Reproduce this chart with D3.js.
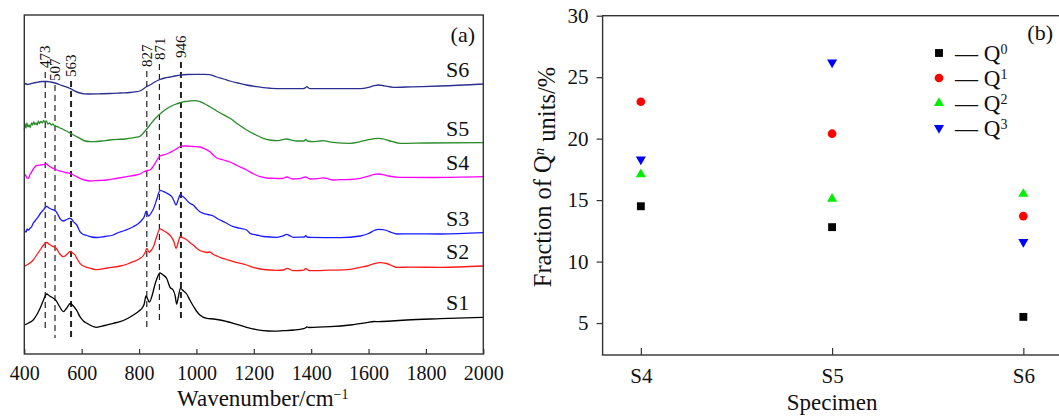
<!DOCTYPE html>
<html>
<head>
<meta charset="utf-8">
<script src="https://cdn.jsdelivr.net/npm/d3@7"></script>
<style>
  html, body { margin: 0; padding: 0; background: #fff; }
  svg { display: block; font-family: "Liberation Serif", "Times New Roman", serif; }
</style>
</head>
<body>
<svg id="chart" width="1059" height="417"></svg>
<script>
// ---------- Panel (a): FTIR spectra, [wavenumber cm^-1, offset intensity a.u.] ----------
const wavenumberTicks = [400, 600, 800, 1000, 1200, 1400, 1600, 1800, 2000];
const peakPositions = [473, 507, 563, 827, 871, 946];
const peakLabelBase = [68, 81, 77, 67, 60, 58];      // label foot (px from top)
const peakLineEnd = [332, 338, 337, 329, 323, 320];   // dashed line foot (px from top)
const peakBold = [false, false, true, false, false, true];

const spectrumNames = ["S1", "S2", "S3", "S4", "S5", "S6"];
const spectrumColors = ["#000000", "#ff1a1a", "#1a1aff", "#ff00ff", "#2a8a2a", "#2b2f8f"];

const spectrumS1 = [[400,29],[415,31],[431,34],[445,40],[455,45.7],[467,54],[478,60],[488,58],[496,56.7],[511,53.3],[524,47],[536,42.3],[548,46],[560,50.5],[571,48],[583,43.3],[594,37.3],[606,33],[618,30.7],[640,27.5],[652,26.7],[680,28.5],[710,30.7],[734,32.3],[760,35.5],[780,39],[800,43],[810,45.7],[818,50],[824,58],[830,55],[836,52],[845,58],[856,70],[873,81],[884,79],[896,75.7],[908,66.7],[919,64],[926,58],[931,50],[937,57],[944,65.7],[955,63],[966,60],[977,54],[989,48],[1000,43],[1012,39],[1036,35.7],[1060,35],[1082,34],[1105,32.5],[1129,30.7],[1175,26.7],[1233,23.3],[1270,22.8],[1303,23.3],[1340,24],[1361,24.7],[1380,26],[1385,27],[1392,26.5],[1466,27.3],[1536,29],[1594,31.3],[1620,32.5],[1634,32.3],[1680,33],[1733,34],[1850,35.3],[2000,36.7]];

const spectrumS2 = [[400,87.7],[415,90],[431,94],[443,99],[455,104],[467,109],[478,111.5],[488,109.5],[496,108],[511,105.7],[524,100],[536,97.3],[548,99.5],[560,102.7],[568,101],[577,99],[583,95.7],[594,90.7],[606,88],[618,86.7],[640,85],[652,84.3],[690,86],[734,88],[760,90],[780,92.3],[800,95],[815,98.5],[822,102],[827,105.7],[832,103],[836,101.7],[843,104],[850,107.3],[860,116],[873,125.2],[884,123.5],[896,121.5],[914,116.5],[922,112],[929,105.7],[936,111],[943,117.3],[955,116],[966,114.3],[977,111.5],[989,109],[1000,106],[1012,103.5],[1025,102.3],[1036,101.5],[1047,102],[1060,99.5],[1082,96.7],[1105,94.5],[1129,92.3],[1175,89],[1198,86.7],[1233,84.5],[1280,83.7],[1303,84],[1317,85.7],[1330,84],[1338,83.3],[1361,83.5],[1376,84.2],[1381,85.7],[1388,84.2],[1396,83.3],[1460,83.8],[1536,84.7],[1571,86.7],[1594,88],[1620,90.3],[1640,91.3],[1663,90.5],[1680,88.5],[1698,86.7],[1750,86.8],[1850,86.7],[2000,88]];

const spectrumS3 = [[400,123.5],[406,122],[410,125],[414,123.8],[420,125.7],[426,127.5],[431,130.7],[440,134],[449,137.3],[457,141],[466,144],[472,146],[478,147.7],[486,146],[496,144.7],[504,143.8],[511,142.3],[518,139],[524,135.7],[536,133],[548,134.5],[559,135.7],[566,134.5],[571,132.3],[577,130.7],[583,129],[594,122.3],[606,119.5],[618,118.5],[635,117],[652,116.5],[680,117.5],[710,119],[722,120.7],[750,123.5],[780,127.3],[800,131],[810,134],[818,137.3],[825,142.8],[830,139.5],[834,138],[842,141],[850,145],[862,155],[873,163.7],[884,162.5],[896,161],[905,159.5],[914,157.3],[922,153],[929,149],[936,154],[943,159],[950,158],[960,155.7],[977,150.7],[989,149],[1000,145.5],[1012,142.3],[1024,140.7],[1040,139.5],[1059,138],[1071,135.7],[1100,131.5],[1129,127.3],[1150,125.8],[1175,124],[1187,120.7],[1210,119],[1233,117.5],[1280,116.7],[1300,117.8],[1315,119.7],[1325,118.3],[1338,116.7],[1365,116.9],[1376,117],[1381,118.4],[1386,117],[1396,116.7],[1501,116.3],[1571,118],[1600,120.5],[1620,123.5],[1634,124.7],[1650,124.3],[1663,123.5],[1680,121.5],[1698,120],[1750,120.1],[1850,120],[2000,121.3]];

const spectrumS4 = [[400,180],[405,178.5],[410,176],[414,175.7],[420,179.5],[426,182.3],[434,186],[443,188.5],[452,188.8],[460,189.2],[470,189.5],[478,190],[484,188.5],[490,187.3],[500,185.8],[513,184],[530,182.6],[545,181.5],[559,180.7],[575,178.5],[594,175.7],[610,174],[629,173],[660,173.5],[687,174],[720,175.5],[757,177.3],[790,179],[803,180],[815,182],[830,183.5],[838,184],[848,187],[856,190.7],[865,195],[873,198],[884,199],[896,200],[908,201.5],[919,203.3],[930,205],[943,207.5],[955,208],[966,208],[990,207.5],[1012,207],[1030,205],[1047,202.3],[1060,198.5],[1071,196],[1095,194],[1117,192],[1145,188],[1175,184],[1200,180],[1222,177.3],[1245,176],[1268,175.7],[1300,175.5],[1315,177],[1335,175],[1360,175.4],[1381,177],[1388,176],[1400,175],[1420,175.3],[1441,176.2],[1460,175.2],[1476,174],[1500,174.3],[1536,174.5],[1571,175.7],[1600,177.8],[1620,179.6],[1634,180],[1650,179.4],[1670,178],[1710,176.7],[1825,176.5],[2000,177.3]];

const spectrumS5 = [[400,224],[403,230],[406,226],[409,231],[413,227],[417,229],[421,226.5],[425,231],[429,229],[433,232],[437,229.5],[441,231],[445,229],[449,233],[453,230.5],[458,232.5],[463,231],[467,233.5],[472,232],[477,233],[482,230],[488,231],[494,229],[500,230],[507,227.5],[514,227.5],[524,226],[533,225],[542,223.5],[550,222.5],[559,221],[575,218.5],[594,215.7],[612,213],[630,212.4],[646,212.3],[670,213],[699,214],[725,214.6],[751,215],[770,215.8],[786,216.7],[803,217.7],[812,220],[821,223],[830,226],[838,229],[855,235],[873,240],[890,244],[908,247.3],[925,249.5],[946,251.5],[960,252.5],[977,253],[995,253.3],[1012,252.3],[1030,250],[1047,247.3],[1080,241.5],[1117,235.7],[1145,229.8],[1175,224],[1205,219.5],[1233,215.7],[1255,214],[1280,213.3],[1300,214.3],[1315,215],[1332,213.8],[1350,213],[1375,213],[1381,214.5],[1387,213],[1407,212.3],[1425,212.8],[1441,213.3],[1460,212.4],[1476,211.7],[1536,210.7],[1571,212.3],[1600,214.3],[1620,215.3],[1634,215.7],[1650,215.2],[1670,213.5],[1710,210.7],[1800,211],[2000,211.3]];

const spectrumS6 = [[400,269],[406,270.5],[410,269.5],[420,270],[440,271.5],[462,272.5],[479,272.5],[492,272],[507,271],[530,268.6],[559,265.7],[575,263.2],[594,261],[610,260.2],[629,260],[660,260.2],[699,260.5],[735,261],[769,261.5],[790,262.3],[803,263],[815,265],[824,267],[838,269],[855,272],[873,274.5],[890,276],[908,277],[925,278],[946,279],[970,279.5],[995,279.7],[1020,279.6],[1047,279.3],[1071,277],[1095,275],[1117,273],[1145,271],[1175,269],[1205,267.5],[1233,266.3],[1260,265.7],[1292,265.3],[1335,265.3],[1372,265.3],[1380,266.3],[1385,267.3],[1390,266.2],[1396,265.3],[1460,265.3],[1536,265.3],[1571,265.3],[1600,266.6],[1620,268.4],[1634,269],[1655,268.2],[1686,266.7],[1750,267.2],[1850,268],[2000,270]];

const spectra = [spectrumS1, spectrumS2, spectrumS3, spectrumS4, spectrumS5, spectrumS6];

// ---------- Panel (b): fraction of Q^n units per specimen ----------
const specimens = ["S4", "S5", "S6"];
const fractionQ0 = [14.5, 12.8, 5.5];
const fractionQ1 = [23.0, 20.4, 13.7];
const fractionQ2 = [17.1, 15.1, 15.5];
const fractionQ3 = [18.3, 26.2, 11.6];
const fractionTicks = [5, 10, 15, 20, 25, 30];
const qNames = ["0", "1", "2", "3"];
const qColors = ["#000000", "#ff0000", "#00ee00", "#0000ff"];

const svg = d3.select("#chart");
const frameColor = "#333";
const serif = "Liberation Serif, Times New Roman, serif";

// ===== Panel (a) =====
const a = { left: 24.3, right: 483.3, top: 15, bottom: 354 };
const xA = d3.scaleLinear().domain([400, 2000]).range([a.left, a.right]);
const yA = d3.scaleLinear().domain([0, 339]).range([a.bottom, a.top]);

const gA = svg.append("g");

// dashed peak markers
peakPositions.forEach((p, i) => {
  const x = xA(p);
  gA.append("line")
    .attr("x1", x).attr("x2", x)
    .attr("y1", peakLabelBase[i] + 4).attr("y2", peakLineEnd[i])
    .attr("stroke", "#222")
    .attr("stroke-width", peakBold[i] ? 2 : 1.2)
    .attr("stroke-dasharray", "6,4");
  gA.append("text")
    .attr("transform", `translate(${x},${peakLabelBase[i]}) rotate(-90)`)
    .attr("dy", "0.35em")
    .attr("font-size", 15)
    .attr("fill", "#111")
    .text(p);
});

const lineA = d3.line()
  .x(d => xA(d[0]))
  .y(d => yA(d[1]))
  .curve(d3.curveMonotoneX);

spectra.forEach((s, i) => {
  gA.append("path")
    .datum(s)
    .attr("d", lineA)
    .attr("fill", "none")
    .attr("stroke", spectrumColors[i])
    .attr("stroke-width", 1.3);
  gA.append("text")
    .attr("x", xA(1870))
    .attr("y", yA(s[s.length - 1][1]) - 7)
    .attr("font-size", 22)
    .attr("fill", "#111")
    .text(spectrumNames[i]);
});

// frame
gA.append("rect")
  .attr("x", a.left).attr("y", a.top)
  .attr("width", a.right - a.left).attr("height", a.bottom - a.top)
  .attr("fill", "none").attr("stroke", frameColor).attr("stroke-width", 1.4);

// x axis (ticks pointing inward)
const axisA = gA.append("g")
  .attr("transform", `translate(0,${a.bottom})`)
  .call(d3.axisBottom(xA).tickValues(wavenumberTicks).tickSize(-5).tickPadding(12).tickFormat(d3.format("d")));
axisA.select(".domain").remove();
axisA.selectAll(".tick line").attr("stroke", frameColor).attr("stroke-width", 1.2);
axisA.selectAll(".tick text").attr("font-size", 20).attr("fill", "#111").attr("font-family", serif);

const xTitleA = gA.append("text")
  .attr("x", (a.left + a.right) / 2 + 9)
  .attr("y", 406)
  .attr("text-anchor", "middle")
  .attr("font-size", 23)
  .attr("fill", "#111");
xTitleA.append("tspan").text("Wavenumber/cm");
xTitleA.append("tspan").attr("dy", "-0.5em").attr("font-size", 14).text("\u22121");

gA.append("text")
  .attr("x", 475).attr("y", 42)
  .attr("text-anchor", "end")
  .attr("font-size", 22)
  .attr("fill", "#111")
  .text("(a)");

// ===== Panel (b) =====
const b = { left: 602.6, right: 1061.6, top: 15.7, bottom: 355 };
const xB = d3.scalePoint().domain(specimens).range([b.left, b.right]).padding(0.2);
const yB = d3.scaleLinear().domain([2.4, 30]).range([b.bottom, b.top]);

const gB = svg.append("g");

gB.append("rect")
  .attr("x", b.left).attr("y", b.top)
  .attr("width", b.right - b.left).attr("height", b.bottom - b.top)
  .attr("fill", "none").attr("stroke", frameColor).attr("stroke-width", 1.4);

const yAxisB = gB.append("g")
  .attr("transform", `translate(${b.left},0)`)
  .call(d3.axisLeft(yB).tickValues(fractionTicks).tickSize(6).tickPadding(8));
yAxisB.select(".domain").remove();
yAxisB.selectAll(".tick line").attr("stroke", frameColor).attr("stroke-width", 1.2);
yAxisB.selectAll(".tick text").attr("font-size", 21).attr("fill", "#111").attr("font-family", serif);

const xAxisB = gB.append("g")
  .attr("transform", `translate(0,${b.bottom})`)
  .call(d3.axisBottom(xB).tickSize(-7).tickPadding(13));
xAxisB.select(".domain").remove();
xAxisB.selectAll(".tick line").attr("stroke", frameColor).attr("stroke-width", 1.2);
xAxisB.selectAll(".tick text").attr("font-size", 21).attr("fill", "#111").attr("font-family", serif);

gB.append("text")
  .attr("x", xB("S5")).attr("y", 410)
  .attr("text-anchor", "middle")
  .attr("font-size", 23)
  .attr("fill", "#111")
  .text("Specimen");

const yTitleB = gB.append("text")
  .attr("transform", `translate(551,177) rotate(-90)`)
  .attr("text-anchor", "middle")
  .attr("font-size", 24.5)
  .attr("fill", "#111");
yTitleB.append("tspan").text("Fraction of Q");
yTitleB.append("tspan").attr("dy", "-0.45em").attr("font-size", 15).attr("font-style", "italic").text("n");
yTitleB.append("tspan").attr("dy", "0.45em").text(" units/%");

gB.append("text")
  .attr("x", 1053).attr("y", 40)
  .attr("text-anchor", "end")
  .attr("font-size", 22)
  .attr("fill", "#111")
  .text("(b)");

// markers
const markerShapes = [
  d3.symbol().type(d3.symbolSquare).size(62),
  d3.symbol().type(d3.symbolCircle).size(60),
  d3.symbol().type(d3.symbolTriangle).size(44),
  d3.symbol().type(d3.symbolTriangle).size(44)
];
const markerRotation = [0, 0, 0, 180];
const seriesB = [fractionQ0, fractionQ1, fractionQ2, fractionQ3];

seriesB.forEach((vals, qi) => {
  gB.selectAll(null)
    .data(vals.map((v, si) => ({ s: specimens[si], v })))
    .enter().append("path")
    .attr("d", markerShapes[qi]())
    .attr("transform", d => `translate(${xB(d.s)},${yB(d.v)}) rotate(${markerRotation[qi]})`)
    .attr("fill", qColors[qi]);
});

// legend
const legend = gB.append("g");
qNames.forEach((q, i) => {
  const ly = 53 + i * 25;
  legend.append("path")
    .attr("d", markerShapes[i]())
    .attr("transform", `translate(939,${ly}) rotate(${markerRotation[i]})`)
    .attr("fill", qColors[i]);
  const t = legend.append("text")
    .attr("x", 955).attr("y", ly + 8)
    .attr("font-size", 23)
    .attr("fill", "#111");
  t.append("tspan").text("\u2014 Q");
  t.append("tspan").attr("dy", "-0.5em").attr("font-size", 14).text(q);
});
</script>
</body>
</html>
